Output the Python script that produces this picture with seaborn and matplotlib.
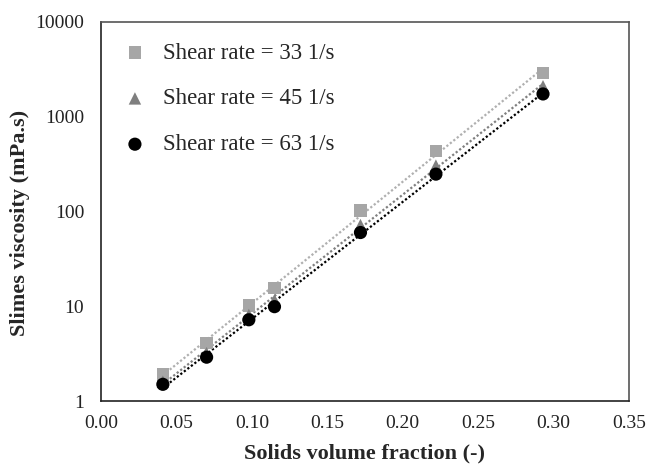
import numpy as np
import pandas as pd
import matplotlib
matplotlib.use("Agg")
import matplotlib.pyplot as plt
import seaborn as sns

# Data
solids_fraction = [0.041, 0.070, 0.098, 0.115, 0.172, 0.222, 0.293]
visc_33 = [1.9, 4.1, 10.2, 15.6, 102, 435, 2900]
visc_45 = [1.6, 3.2, 8.1, 11.6, 72, 305, 2100]
visc_63 = [1.5, 2.9, 7.2, 9.9, 60, 248, 1740]
series_labels = ["Shear rate = 33 1/s", "Shear rate = 45 1/s", "Shear rate = 63 1/s"]
x_ticks = [0.00, 0.05, 0.10, 0.15, 0.20, 0.25, 0.30, 0.35]
y_ticks = [1, 10, 100, 1000, 10000]

sns.set_style("white")
plt.rcParams["font.family"] = ["Liberation Serif", "DejaVu Serif"]

fig = plt.figure(figsize=(6.49, 4.70), dpi=100)
ax = fig.add_axes([101 / 649, 1 - 401 / 470, (629 - 101) / 649, (401 - 22) / 470])

styles = [
    (visc_33, "s", "#a6a6a6", "#b0b0b0", 80),
    (visc_45, "^", "#7f7f7f", "#808080", 80),
    (visc_63, "o", "#000000", "#000000", 90),
]

x = np.array(solids_fraction)
for i, (vals, mk, col, lcol, sz) in enumerate(styles):
    y = np.array(vals)
    # exponential trend line (fit of log y against x)
    b, a = np.polyfit(x, np.log(y), 1)
    xs = np.linspace(x.min(), x.max(), 100)
    fit = pd.DataFrame({"x": xs, "y": np.exp(a + b * xs)})
    sns.lineplot(data=fit, x="x", y="y", ax=ax, color=lcol, lw=1.6,
                 dashes=False, legend=False, zorder=2 + i)
    ax.lines[-1].set_linestyle((0, (1, 1)))
for i, (vals, mk, col, lcol, sz) in enumerate(styles):
    df = pd.DataFrame({"x": solids_fraction, "y": vals})
    sns.scatterplot(data=df, x="x", y="y", ax=ax, marker=mk, color=col, s=sz,
                    edgecolor="none", label=series_labels[i], zorder=5 + i)

ax.set_yscale("log")
ax.set_xlim(0, 0.35)
ax.set_ylim(1, 10000)
ax.set_xticks(x_ticks)
ax.set_xticklabels([f"{t:.2f}" for t in x_ticks])
ax.set_yticks(y_ticks)
ax.set_yticklabels([str(t) for t in y_ticks])
ax.minorticks_off()
ax.tick_params(axis="both", which="major", direction="in", length=6, width=1,
               labelsize=14, colors="#333333", labelcolor="#222222")
ax.tick_params(axis="x", pad=10)
ax.tick_params(axis="y", pad=12)

for side in ["left", "bottom"]:
    ax.spines[side].set_color("#222222")
    ax.spines[side].set_linewidth(1.2)
for side in ["top", "right"]:
    ax.spines[side].set_visible(True)
    ax.spines[side].set_color("#555555")
    ax.spines[side].set_linewidth(1.2)

ax.set_xlabel("Solids volume fraction (-)", fontsize=16, fontweight="bold", labelpad=8)
ax.set_ylabel("Slimes viscosity (mPa.s)", fontsize=16, fontweight="bold")
ax.yaxis.set_label_coords(-0.134, 0.47)

leg = ax.legend(loc="upper left", bbox_to_anchor=(0.01, 0.988), frameon=False,
                fontsize=16.5, labelspacing=1.08, handletextpad=0.68, handlelength=1.1,
                borderaxespad=0.3)

fig.savefig("out.png", dpi=100)
